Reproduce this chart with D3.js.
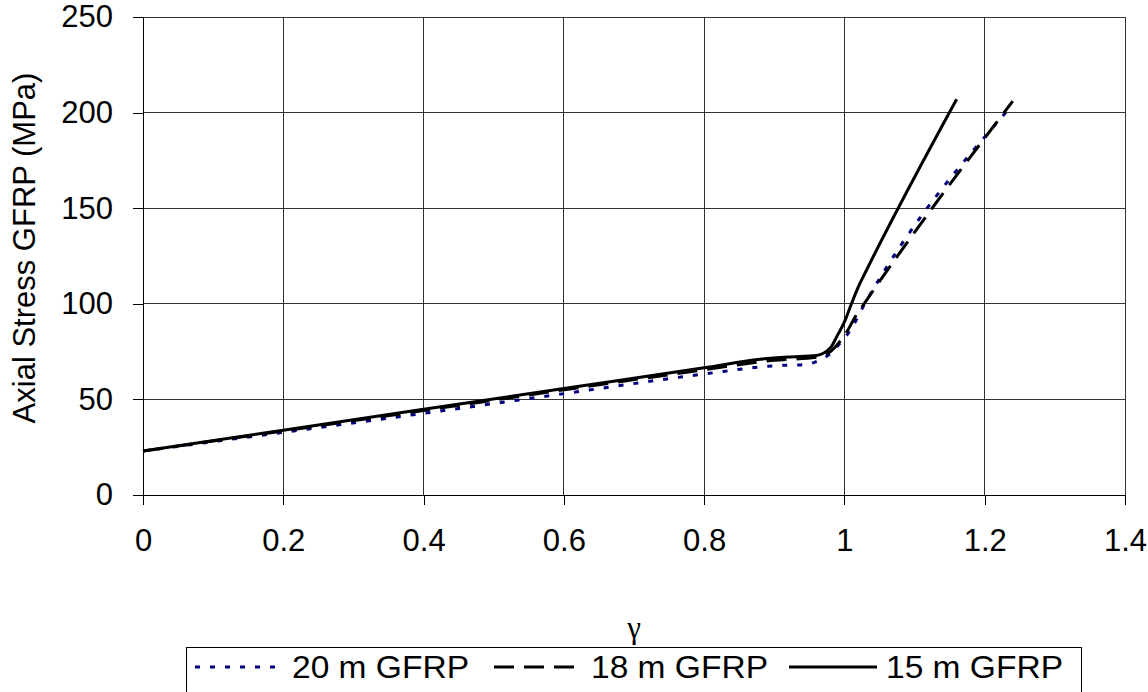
<!DOCTYPE html>
<html>
<head>
<meta charset="utf-8">
<script src="https://cdn.jsdelivr.net/npm/d3@7"></script>
<style>
  body { margin: 0; background: #fff; }
  text { font-family: Arial, "Liberation Sans", sans-serif; fill: #000; }
</style>
</head>
<body>
<div class="chart"></div>
<script>
var svgWidth = 1148;
var svgHeight = 692;

// plot area in pixels
var margin = { top: 17, right: 23, bottom: 197, left: 143 };
var width = svgWidth - margin.left - margin.right;
var height = svgHeight - margin.top - margin.bottom;

// series
var gamma20 = [0, 0.2, 0.4, 0.6, 0.8, 0.9, 0.944, 0.965, 0.98, 0.994, 1.007, 1.029, 1.23];
var stress20 = [23, 32.8, 42.7, 53, 63.3, 67.6, 68.3, 70.6, 74, 79.5, 85.4, 100, 200];

var gamma18 = [0, 0.2, 0.4, 0.6, 0.8, 0.9, 0.96, 0.98, 0.995, 1.005, 1.015, 1.028, 1.24];
var stress18 = [23, 33.5, 44.2, 55, 65.5, 70.5, 72, 75, 81, 86.3, 93, 100, 206];

var gamma15 = [0, 0.2, 0.4, 0.6, 0.8, 0.88, 0.92, 0.96, 0.98, 0.99, 1.0, 1.01, 1.02, 1.03, 1.16];
var stress15 = [23, 33.9, 44.8, 55.7, 66.5, 71, 72.2, 73, 77, 83.5, 90.5, 100, 109, 116.5, 207];

var xTicks = [0, 0.2, 0.4, 0.6, 0.8, 1, 1.2, 1.4];
var yTicks = [0, 50, 100, 150, 200, 250];

var seriesNames = ["20 m GFRP", "18 m GFRP", "15 m GFRP"];

var series = [
    { name: seriesNames[0], x: gamma20, y: stress20, color: "#000080", dash: "5,10" },
    { name: seriesNames[1], x: gamma18, y: stress18, color: "#000", dash: "20,10" },
    { name: seriesNames[2], x: gamma15, y: stress15, color: "#000", dash: null }
];

var svg = d3.select(".chart")
    .append("svg")
    .attr("width", svgWidth)
    .attr("height", svgHeight);

var chartGroup = svg.append("g")
    .attr("transform", `translate(${margin.left}, ${margin.top})`);

var xScale = d3.scaleLinear().domain([0, 1.4]).range([0, width]);
var yScale = d3.scaleLinear().domain([0, 250]).range([height, 0]);

// gridlines
chartGroup.append("g")
    .selectAll("line.h")
    .data(yTicks.slice(1))
    .enter()
    .append("line")
    .attr("x1", 0).attr("x2", width)
    .attr("y1", d => yScale(d)).attr("y2", d => yScale(d))
    .attr("stroke", "#333")
    .attr("shape-rendering", "crispEdges");

chartGroup.append("g")
    .selectAll("line.v")
    .data(xTicks.slice(1))
    .enter()
    .append("line")
    .attr("y1", 0).attr("y2", height)
    .attr("x1", d => xScale(d)).attr("x2", d => xScale(d))
    .attr("stroke", "#333")
    .attr("shape-rendering", "crispEdges");

// axes
var bottomAxis = d3.axisBottom(xScale)
    .tickValues(xTicks)
    .tickFormat(d => d3.format("")(d))
    .tickSize(10)
    .tickSizeOuter(0)
    .tickPadding(24);

var leftAxis = d3.axisLeft(yScale)
    .tickValues(yTicks)
    .tickSize(10)
    .tickSizeOuter(0)
    .tickPadding(20);

var xAxisG = chartGroup.append("g")
    .attr("transform", `translate(0, ${height})`)
    .call(bottomAxis);

var yAxisG = chartGroup.append("g")
    .call(leftAxis);

[xAxisG, yAxisG].forEach(function(g) {
    g.select(".domain").attr("stroke", "#000").attr("shape-rendering", "crispEdges");
    g.selectAll(".tick line").attr("stroke", "#000").attr("shape-rendering", "crispEdges");
    g.selectAll(".tick text")
        .attr("font-family", "Arial, 'Liberation Sans', sans-serif")
        .attr("font-size", "31px")
        .attr("fill", "#000");
});
// y axis line runs down past the x axis like the tick marks
yAxisG.select(".domain").attr("d", `M0,0V${height + 10}`);

// lines
var line = d3.line()
    .x(d => xScale(d[0]))
    .y(d => yScale(d[1]))
    .curve(d3.curveMonotoneX);

series.forEach(function(s) {
    var pts = s.x.map((v, i) => [v, s.y[i]]);
    chartGroup.append("path")
        .datum(pts)
        .attr("fill", "none")
        .attr("stroke", s.color)
        .attr("stroke-width", 3)
        .attr("stroke-dasharray", s.dash)
        .attr("d", line);
});

// axis titles
svg.append("text")
    .attr("transform", `translate(35, ${margin.top + height / 2 - 8}) rotate(-90)`)
    .attr("text-anchor", "middle")
    .attr("font-size", "31px")
    .text("Axial Stress GFRP (MPa)");

svg.append("text")
    .attr("x", margin.left + width / 2)
    .attr("y", 638)
    .attr("text-anchor", "middle")
    .attr("font-size", "31px")
    .style("font-family", "'Liberation Serif', 'Times New Roman', serif")
    .text("γ");

// legend
var legend = svg.append("g");
legend.append("rect")
    .attr("x", 186.5).attr("y", 647.5)
    .attr("width", 895).attr("height", 60)
    .attr("fill", "#fff")
    .attr("stroke", "#000");

var legendX = [195, 494, 789];
series.forEach(function(s, i) {
    legend.append("line")
        .attr("x1", legendX[i]).attr("x2", legendX[i] + 88)
        .attr("y1", 667).attr("y2", 667)
        .attr("stroke", s.color)
        .attr("stroke-width", 3)
        .attr("stroke-dasharray", s.dash);
    legend.append("text")
        .attr("x", legendX[i] + 97)
        .attr("y", 678)
        .attr("font-size", "32px")
        .attr("textLength", 177)
        .attr("lengthAdjust", "spacingAndGlyphs")
        .text(s.name);
});
</script>
</body>
</html>
